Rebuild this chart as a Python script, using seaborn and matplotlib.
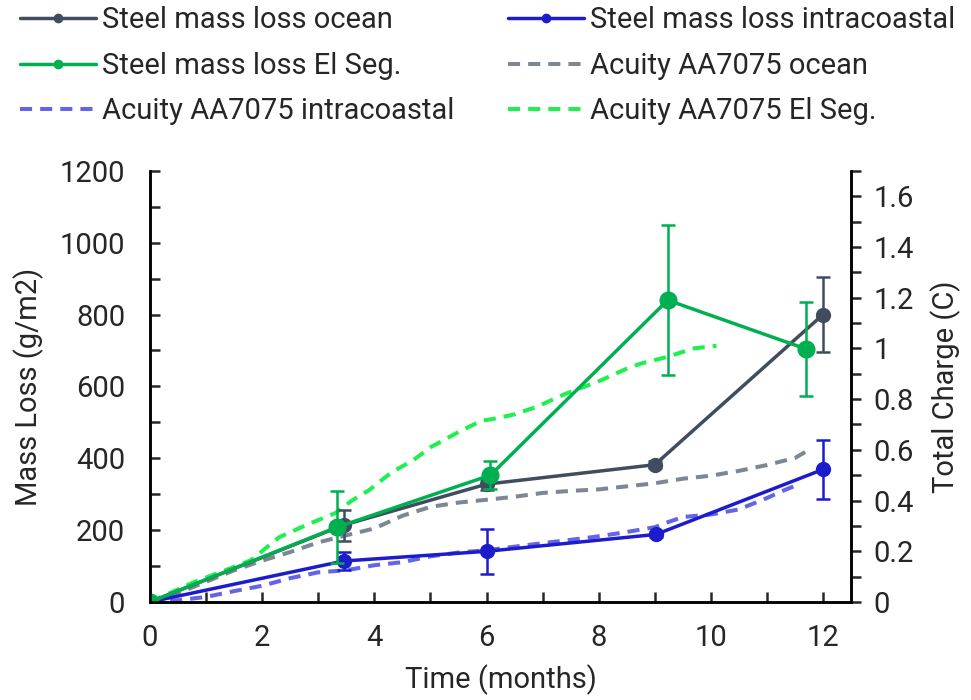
import numpy as np
import seaborn as sns
import matplotlib
matplotlib.use("Agg")
import matplotlib.pyplot as plt
from matplotlib.ticker import MultipleLocator

# Steel coupons (left axis, g/m2)
ocean_t = [0, 3.45, 6.0, 9.0, 12.0]
ocean_loss = [0, 214, 328, 382, 800]
ocean_err = [0, 43, 15, 10, 104]

intra_t = [0, 3.45, 6.0, 9.02, 12.0]
intra_loss = [0, 114, 141, 188, 369]
intra_err = [0, 26, 62, 6, 81]

elseg_t = [0, 3.33, 6.07, 9.23, 11.7]
elseg_loss = [0, 208, 353, 840, 704]
elseg_err = [0, 100, 39, 208, 131]

# Acuity AA7075 sensors (right axis, C)
ac_ocean_t = [0, 0.5, 1.0, 1.5, 2.0, 2.5, 3.0, 3.5, 4.0, 4.5, 5.0, 5.5, 6.0, 6.5, 7.0,
              7.5, 8.0, 8.5, 9.0, 9.5, 10.0, 10.5, 11.0, 11.5, 11.75]
ac_ocean_q = [0, 0.035, 0.08, 0.125, 0.163, 0.197, 0.235, 0.263, 0.29, 0.34, 0.375, 0.392,
              0.403, 0.415, 0.43, 0.438, 0.444, 0.456, 0.468, 0.486, 0.498, 0.517, 0.54,
              0.568, 0.60]

ac_intra_t = [0, 0.5, 1.0, 1.5, 2.0, 2.5, 3.0, 3.5, 4.0, 4.5, 5.0, 5.5, 6.0, 6.5, 7.0,
              7.5, 8.0, 8.5, 9.0, 9.25, 9.5, 10.0, 10.5, 11.0, 11.3, 11.6]
ac_intra_q = [0, 0.007, 0.02, 0.043, 0.064, 0.094, 0.117, 0.125, 0.145, 0.157, 0.18, 0.195,
              0.204, 0.218, 0.232, 0.245, 0.259, 0.276, 0.295, 0.316, 0.335, 0.345, 0.365,
              0.41, 0.44, 0.467]

ac_elseg_t = [0, 0.4, 0.8, 1.4, 1.8, 2.3, 2.8, 3.3, 3.6, 3.9, 4.3, 4.7, 5.0, 5.5, 5.9,
              6.2, 6.5, 6.9, 7.4, 8.0, 8.5, 8.75, 9.2, 9.7, 10.1]
ac_elseg_q = [0, 0.04, 0.08, 0.13, 0.165, 0.255, 0.305, 0.35, 0.40, 0.44, 0.51, 0.56, 0.61,
              0.67, 0.714, 0.725, 0.74, 0.77, 0.82, 0.87, 0.92, 0.94, 0.965, 1.0, 1.01]

c_ocean = "#3f4d5f"
c_intra = "#1c1ccc"
c_elseg = "#00b050"
c_ac_ocean = "#7d8793"
c_ac_intra = "#6464e6"
c_ac_elseg = "#1ef050"

FS = 21

sns.set_style("ticks")
plt.rcParams["font.family"] = ["Roboto", "DejaVu Sans"]
plt.rcParams["font.size"] = FS

fig = plt.figure(figsize=(9.71, 7.0), dpi=100)
ax1 = fig.add_axes([0.1545, 0.14, 0.722, 0.616])
ax2 = ax1.twinx()

dash = (0, (3.0, 2.0))
sns.lineplot(x=ac_ocean_t, y=ac_ocean_q, ax=ax2, color=c_ac_ocean, linewidth=2.9,
             linestyle=dash, legend=False, errorbar=None, label="Acuity AA7075 ocean")
sns.lineplot(x=ac_intra_t, y=ac_intra_q, ax=ax2, color=c_ac_intra, linewidth=2.9,
             linestyle=dash, legend=False, errorbar=None, label="Acuity AA7075 intracoastal")
sns.lineplot(x=ac_elseg_t, y=ac_elseg_q, ax=ax2, color=c_ac_elseg, linewidth=2.9,
             linestyle=dash, legend=False, errorbar=None, label="Acuity AA7075 El Seg.")

for t, m, e, c, ms, lab in [
    (ocean_t, ocean_loss, ocean_err, c_ocean, 11, "Steel mass loss ocean"),
    (intra_t, intra_loss, intra_err, c_intra, 11, "Steel mass loss intracoastal"),
    (elseg_t, elseg_loss, elseg_err, c_elseg, 13, "Steel mass loss El Seg."),
]:
    ax1.errorbar(t, m, yerr=e, fmt="none", ecolor=c, elinewidth=1.8, capsize=5, capthick=1.8)
    sns.lineplot(x=t, y=m, ax=ax1, color=c, linewidth=2.5, marker="o", markersize=ms,
                 markeredgewidth=0, legend=False, errorbar=None, label=lab)

ax1.set_zorder(ax2.get_zorder() + 1)
ax1.patch.set_visible(False)

ax1.set_xlim(0, 12.5)
ax1.set_ylim(0, 1200)
ax2.set_ylim(0, 1.7)
ax1.xaxis.set_major_locator(MultipleLocator(2))
ax1.xaxis.set_minor_locator(MultipleLocator(1))
ax1.yaxis.set_major_locator(MultipleLocator(200))
ax1.yaxis.set_minor_locator(MultipleLocator(100))
ax2.yaxis.set_major_locator(MultipleLocator(0.2))
ax2.yaxis.set_minor_locator(MultipleLocator(0.1))
ax2.yaxis.set_major_formatter(plt.FuncFormatter(lambda v, p: f"{v:.1f}".rstrip("0").rstrip(".") if v else "0"))

for ax in (ax1, ax2):
    for s in ax.spines.values():
        s.set_linewidth(1.8)
        s.set_color("black")
    ax.spines["top"].set_visible(False)

ax1.tick_params(axis="both", which="both", direction="in", width=1.8, length=7, labelsize=FS)
ax1.tick_params(axis="y", which="both", right=False, pad=18)
ax1.tick_params(axis="x", which="both", pad=16)
ax2.tick_params(axis="y", which="both", direction="out", width=1.8, length=7, labelsize=FS, pad=9)

ax1.set_xlabel("Time (months)", fontsize=FS, labelpad=9)
ax1.set_ylabel("Mass Loss (g/m2)", fontsize=FS, labelpad=11)
ax2.set_ylabel("Total Charge (C)", fontsize=FS, labelpad=12)

h1, l1 = ax1.get_legend_handles_labels()
h2, l2 = ax2.get_legend_handles_labels()
hd = dict(zip(l1 + l2, h1 + h2))
order = ["Steel mass loss ocean", "Steel mass loss El Seg.", "Acuity AA7075 intracoastal",
         "Steel mass loss intracoastal", "Acuity AA7075 ocean", "Acuity AA7075 El Seg."]
leg = fig.legend([hd[k] for k in order], order, ncol=2, loc="upper left",
                 bbox_to_anchor=(0.0206, 0.991), frameon=False, fontsize=FS,
                 borderpad=0, borderaxespad=0,
                 handlelength=2.6, handletextpad=0.2, columnspacing=1.85, labelspacing=0.6)
for h in leg.legend_handles:
    h.set_markersize(7)

fig.savefig("out.png", dpi=100)
